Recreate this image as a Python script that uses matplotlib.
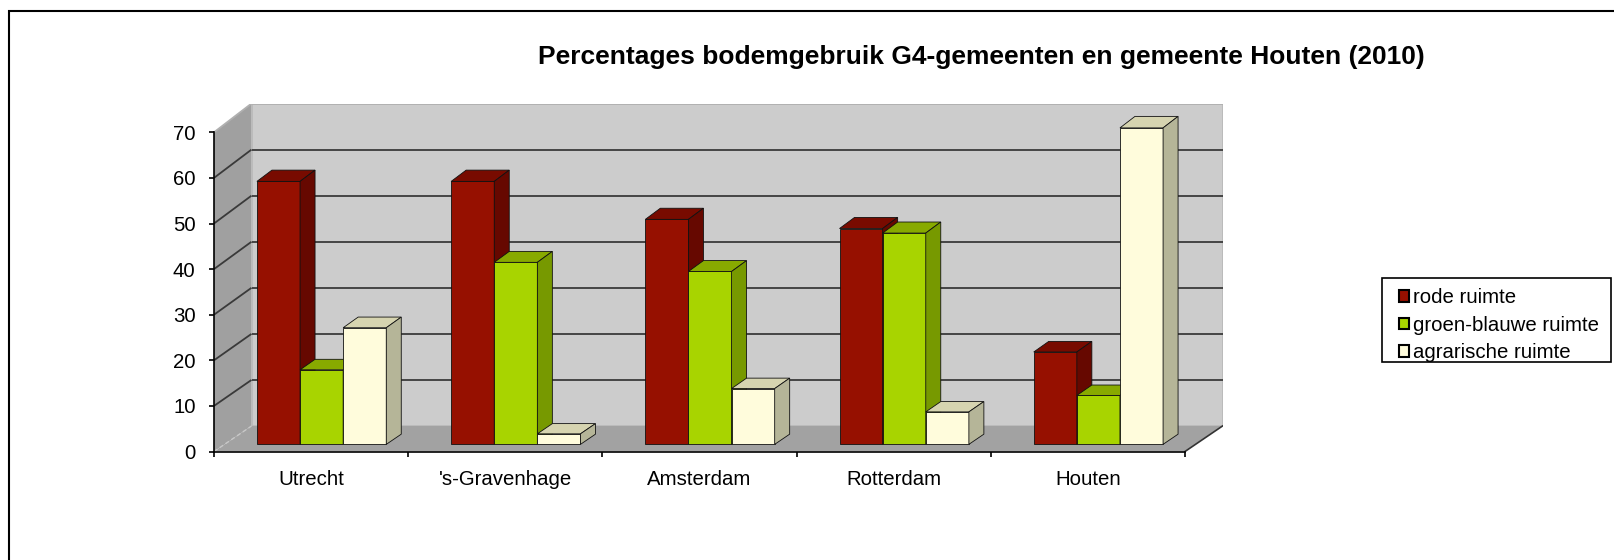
import matplotlib
matplotlib.use('Agg')
import matplotlib.pyplot as plt
from matplotlib.patches import Polygon, Patch, Rectangle

# ---------------- data ----------------
categories = ["Utrecht", "'s-Gravenhage", "Amsterdam", "Rotterdam", "Houten"]
series_names = ["rode ruimte", "groen-blauwe ruimte", "agrarische ruimte"]
rode = [57.5, 57.5, 49.2, 47.2, 20.2]
groen_blauw = [16.3, 39.8, 37.8, 46.2, 10.7]
agrarisch = [25.5, 2.3, 12.2, 7.1, 69.2]
yticks = [0, 10, 20, 30, 40, 50, 60, 70]
title = "Percentages bodemgebruik G4-gemeenten en gemeente Houten (2010)"

series = [rode, groen_blauw, agrarisch]
front_colors = ["#961000", "#a8d400", "#fffcdc"]
side_colors = ["#660800", "#779900", "#b5b598"]
top_colors = ["#780b00", "#88aa00", "#d6d4b0"]

plt.rcParams['font.family'] = ['Liberation Sans', 'DejaVu Sans']
FS = 14.7

W, H = 1614, 560
fig = plt.figure(figsize=(W / 100, H / 100), dpi=100)

PX_X = 194.2   # px per category unit
PX_Y = 4.56    # px per value unit (front plane)
DX = 37.5 / PX_X
DY = 25.5 / PX_Y
K = 0.0103
VMAX = 70


def proj(x, v, d):
    return (x + d * DX, d * DY + v * (1 + K * d))


ymax = proj(0, VMAX, 1)[1]
x0px, y0px = 214, 451.5
ax = fig.add_axes([x0px / W, (H - y0px) / H, (5 + DX) * PX_X / W, ymax * PX_Y / H])
ax.set_xlim(-0.5, 4.5 + DX)
ax.set_ylim(0, ymax)
ax.patch.set_alpha(0)

# walls
side = [proj(-0.5, 0, 0), proj(-0.5, VMAX, 0), proj(-0.5, VMAX, 1), proj(-0.5, 0, 1)]
back = [proj(-0.5, 0, 1), proj(4.5, 0, 1), proj(4.5, VMAX, 1), proj(-0.5, VMAX, 1)]
floor = [proj(-0.5, 0, 0), proj(4.5, 0, 0), proj(4.5, 0, 1), proj(-0.5, 0, 1)]
ax.add_patch(Polygon(side, closed=True, facecolor="#a0a0a0", edgecolor="none", zorder=0))
ax.add_patch(Polygon(back, closed=True, facecolor="#cccccc", edgecolor="#b8b8b8", lw=1.2, zorder=0))
ax.add_patch(Polygon(floor, closed=True, facecolor="#a2a2a2", edgecolor="none", zorder=0))

for v in yticks:
    if v == 0:
        a, b = proj(-0.5, 0, 0), proj(-0.5, 0, 1)
        ax.plot([a[0], b[0]], [a[1], b[1]], color="#c8c8c8", lw=1.0, ls=(0, (3, 2)), zorder=1)
        continue
    col = "#b0b0b0" if v == VMAX else "#3a3a3a"
    a, b = proj(-0.5, v, 1), proj(4.5, v, 1)
    ax.plot([a[0], b[0]], [a[1], b[1]], color=col, lw=1.3, zorder=1, solid_capstyle='butt')
    c = proj(-0.5, v, 0)
    ax.plot([c[0], a[0]], [c[1], a[1]], color=col, lw=1.3, zorder=1, solid_capstyle='butt')

# floor right edge
a, b = proj(4.5, 0, 0), proj(4.5, 0, 1)
ax.plot([a[0], b[0]], [a[1], b[1]], color="#333333", lw=1.2, zorder=1)

# bars
bw = 0.222
d0, d1 = 0.28, 0.68
for j, vals in enumerate(series):
    z = 3 + j
    for i, v in enumerate(vals):
        xl = i - 1.5 * bw + j * bw
        xr = xl + bw
        ax.bar(xl + d0 * DX, v * (1 + K * d0), width=bw, bottom=d0 * DY, align='edge',
               color=front_colors[j], edgecolor="#111111", linewidth=0.6, zorder=z)
        top = [proj(xl, v, d0), proj(xr, v, d0), proj(xr, v, d1), proj(xl, v, d1)]
        sd = [proj(xr, 0, d0), proj(xr, v, d0), proj(xr, v, d1), proj(xr, 0, d1)]
        ax.add_patch(Polygon(top, closed=True, facecolor=top_colors[j], edgecolor="#111111",
                             lw=0.6, zorder=z))
        ax.add_patch(Polygon(sd, closed=True, facecolor=side_colors[j], edgecolor="#111111",
                             lw=0.6, zorder=z))

# axes / ticks
for s in ["top", "right"]:
    ax.spines[s].set_visible(False)
ax.spines["left"].set_bounds(0, VMAX)
ax.spines["bottom"].set_bounds(-0.5, 4.5)
ax.spines["left"].set_linewidth(1.2)
ax.spines["bottom"].set_linewidth(1.2)
ax.spines["left"].set_zorder(10)
ax.spines["bottom"].set_zorder(10)

ax.set_yticks(yticks)
ax.set_yticklabels([str(t) for t in yticks])
ax.tick_params(axis='y', direction='out', length=3.8, width=1.2, labelsize=FS, pad=9.5)
ax.set_xticks(range(len(categories)))
ax.set_xticklabels(categories)
ax.set_xticks([i - 0.5 for i in range(len(categories) + 1)], minor=True)
ax.tick_params(axis='x', which='major', length=0, labelsize=FS, pad=13)
ax.tick_params(axis='x', which='minor', direction='out', length=3.8, width=1.2)

# title
fig.text(981 / W, 1 - 56.6 / H, title, ha='center', va='center', fontsize=19,
         fontweight='bold')

# legend (frame drawn separately)
handles = [Patch(facecolor=front_colors[j], edgecolor="black", linewidth=1.5) for j in range(3)]
leg = fig.legend(handles, series_names, loc='upper left',
                 bbox_to_anchor=(1391 / W, 1 - 280 / H), borderaxespad=0,
                 frameon=False, fontsize=FS, handlelength=0.5,
                 handleheight=0.5, handletextpad=0.2, labelspacing=0.42,
                 borderpad=0.4)
fig.patches.append(Rectangle((1382 / W, 1 - 362 / H), (1611 - 1382) / W, (362 - 278) / H,
                             transform=fig.transFigure, fill=False, edgecolor="black",
                             linewidth=1.2))

# outer border
fig.patches.append(Rectangle((9 / W, -0.1), 1.2, 1 - 11 / H + 0.1, transform=fig.transFigure,
                             fill=False, edgecolor="black", linewidth=1.5))

fig.savefig("out.png", dpi=100)
